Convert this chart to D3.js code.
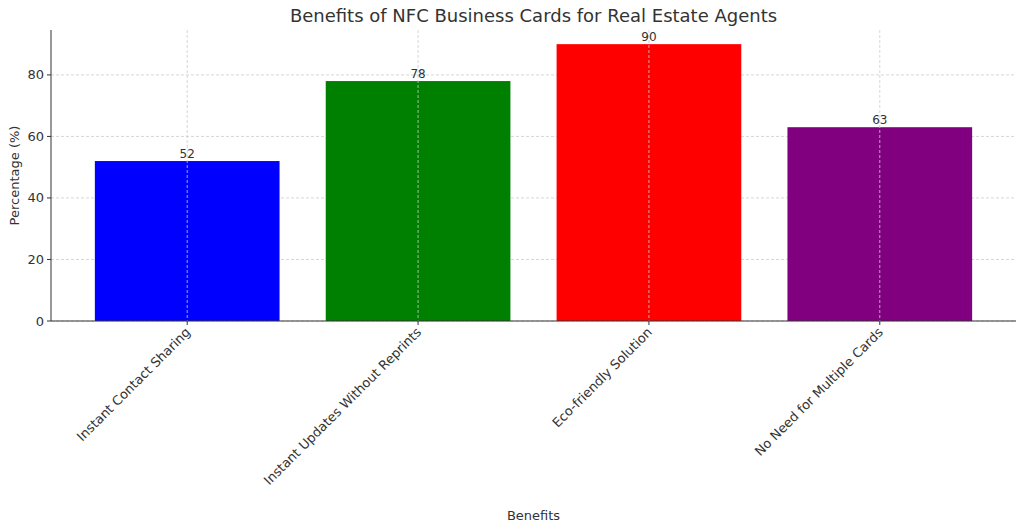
<!DOCTYPE html>
<html><head><meta charset="utf-8">
<script src="https://cdn.jsdelivr.net/npm/d3@7"></script>
<style>body{margin:0;background:#fff}text{font-family:"DejaVu Sans",sans-serif;fill:#333}</style>
</head><body><svg id="chart" width="1024" height="532"></svg>
<script>
const categories = ['Instant Contact Sharing', 'Instant Updates Without Reprints', 'Eco-friendly Solution', 'No Need for Multiple Cards'];
const values = [52, 78, 90, 63];
const colors = ['blue', 'green', 'red', 'purple'];
const yTicks = [0, 20, 40, 60, 80];

const svg = d3.select('#chart');
const mLeft = 51, mRight = 1016, mTop = 30, mBottom = 321;

// index-based x like matplotlib
const x = d3.scaleLinear().domain([-0.59, 3.59]).range([mLeft, mRight]);
const y = d3.scaleLinear().domain([0, 94.6]).range([mBottom, mTop]);
const bw = x(0.4) - x(-0.4);

// grid
svg.append('g').selectAll('line').data(yTicks).join('line')
  .attr('x1', mLeft).attr('x2', mRight).attr('y1', d => y(d)).attr('y2', d => y(d))
  .attr('stroke', '#ccc').attr('stroke-dasharray', '3,2').attr('stroke-width', 0.8);

svg.append('g').selectAll('rect').data(values).join('rect')
  .attr('x', (d, i) => x(i) - bw / 2).attr('width', bw)
  .attr('y', d => y(d)).attr('height', d => mBottom - y(d))
  .attr('fill', (d, i) => colors[i]);

svg.append('g').selectAll('line').data(categories).join('line')
  .attr('x1', (d, i) => x(i)).attr('x2', (d, i) => x(i)).attr('y1', mTop).attr('y2', mBottom)
  .attr('stroke', '#ccc').attr('stroke-dasharray', '3,2').attr('stroke-width', 0.8);

svg.append('g').selectAll('text').data(values).join('text')
  .attr('x', (d, i) => x(i)).attr('y', d => y(d) - 3)
  .attr('text-anchor', 'middle').attr('font-size', 12).text(d => d);

// axes
svg.append('line').attr('x1', mLeft).attr('x2', mLeft).attr('y1', mTop).attr('y2', mBottom).attr('stroke', '#333');
svg.append('line').attr('x1', mLeft).attr('x2', mRight).attr('y1', mBottom).attr('y2', mBottom).attr('stroke', '#333');

const yt = svg.append('g').selectAll('g').data(yTicks).join('g');
yt.append('line').attr('x1', mLeft - 4).attr('x2', mLeft).attr('y1', d => y(d)).attr('y2', d => y(d)).attr('stroke', '#333');
yt.append('text').attr('x', mLeft - 7).attr('y', d => y(d) + 4.5).attr('text-anchor', 'end')
  .attr('font-size', 13).text(d => d);

const xt = svg.append('g').selectAll('g').data(categories).join('g');
xt.append('line').attr('x1', (d, i) => x(i)).attr('x2', (d, i) => x(i)).attr('y1', mBottom).attr('y2', mBottom + 4).attr('stroke', '#333');
xt.append('text').attr('font-size', 13).attr('text-anchor', 'end')
  .attr('transform', (d, i) => `translate(${x(i) + 4},${mBottom + 12}) rotate(-45)`)
  .text(d => d);

svg.append('text').attr('x', (mLeft + mRight) / 2).attr('y', 22).attr('text-anchor', 'middle')
  .attr('font-size', 18).text('Benefits of NFC Business Cards for Real Estate Agents');
svg.append('text').attr('x', (mLeft + mRight) / 2).attr('y', 520).attr('text-anchor', 'middle')
  .attr('font-size', 13).text('Benefits');
svg.append('text').attr('transform', `translate(19,${(mTop + mBottom) / 2}) rotate(-90)`)
  .attr('text-anchor', 'middle').attr('font-size', 13).text('Percentage (%)');
</script></body></html>
